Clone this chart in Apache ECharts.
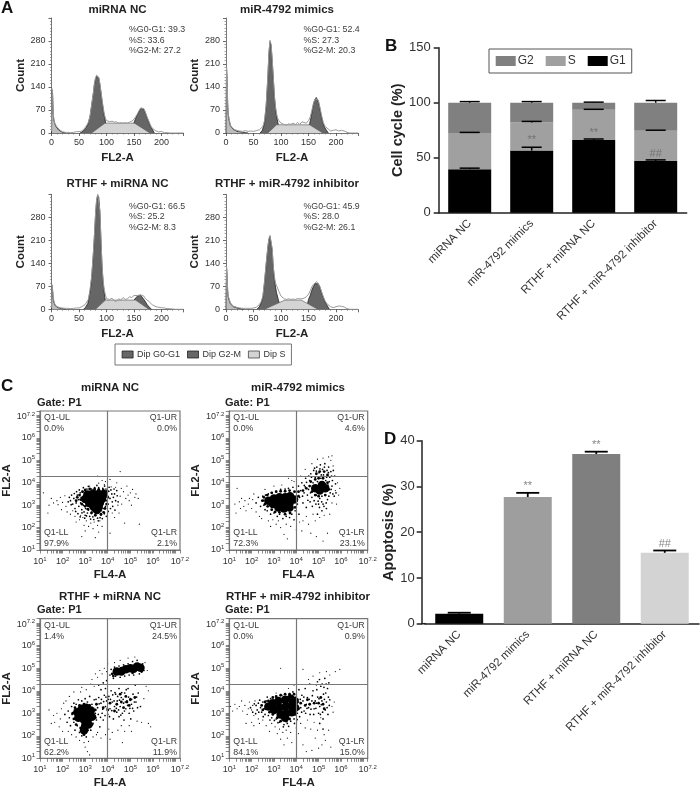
<!DOCTYPE html>
<html><head><meta charset="utf-8">
<style>html,body{margin:0;padding:0;background:#fff}#c{width:700px;height:786px}</style>
<script src="https://cdn.jsdelivr.net/npm/echarts@6/dist/echarts.min.js"></script>
</head><body><div id="c"></div>
<script>
const groups = ['miRNA NC','miR-4792 mimics','RTHF + miRNA NC','RTHF + miR-4792 inhibitor'];
// Panel A
const histX = [0,1,2,3,4,6,8,10,13,16,20,25,30,35,40,45,50,55,58,61,64,67,70,73,76,78,80,82,84,86,88,90,92,94,96,98,100,103,106,110,114,118,122,126,130,134,138,142,146,150,153,156,159,162,165,168,171,174,177,180,183,186,190,195,200,205,210,215,220,225,230,235,240];
const rawA1 = [5,135,120,70,45,30,24,18,12,8,4,2,2,1,2,4,4,6,10,16,22,32,50,85,120,150,168,176,178,170,150,125,100,78,58,45,38,36,34,36,33,34,30,31,30,31,30,33,36,42,50,58,68,76,79,74,62,48,36,24,15,10,6,3,5,1,1,0,0,0,0,0,0];
const rawA2 = [5,200,170,95,60,40,25,18,14,10,8,6,5,7,5,6,5,7,8,10,14,20,38,85,170,245,282,270,225,170,115,80,58,45,38,32,30,28,26,24,28,26,30,26,32,26,34,32,30,38,48,68,90,104,110,100,76,52,32,20,14,12,6,8,10,6,8,6,2,0,0,0,0];
const rawA3 = [5,75,60,40,28,16,10,8,6,5,4,3,3,2,3,4,4,8,10,14,20,30,60,100,170,225,290,335,350,345,300,210,130,85,58,45,32,38,30,34,26,24,32,28,36,30,32,38,36,42,40,42,46,44,42,40,32,30,24,18,14,12,8,6,5,4,2,2,1,0,0,0,0];
const rawA4 = [5,130,110,60,42,30,20,15,10,8,6,4,3,3,3,3,4,6,10,15,24,40,85,140,190,215,225,220,185,130,100,80,72,70,55,50,40,36,32,30,32,30,31,30,33,32,32,34,38,46,56,68,76,80,84,80,68,52,38,26,18,12,8,5,8,10,9,7,2,0,0,0,0];
const debrisA1 = [[0,0],[1,130],[2,115],[3,65],[4,42],[6,28],[8,20],[10,14],[13,9],[16,5],[20,2],[26,0]];
const debrisA2 = [[0,0],[1,195],[2,165],[3,90],[4,56],[6,36],[8,22],[10,16],[13,11],[16,8],[20,5],[30,2],[40,0]];
const debrisA3 = [[0,0],[1,72],[2,56],[3,36],[4,24],[6,13],[8,8],[10,6],[13,4],[18,2],[26,0]];
const debrisA4 = [[0,0],[1,125],[2,105],[3,56],[4,38],[6,26],[8,17],[10,12],[13,8],[16,6],[22,3],[32,0]];
const g1A1 = [[52,0],[58,6],[62,14],[66,26],[70,50],[73,85],[76,120],[78,148],[80,165],[82,173],[84,175],[86,167],[88,148],[90,122],[92,96],[94,72],[96,52],[98,36],[101,0]];
const g1A2 = [[62,0],[66,8],[70,30],[73,80],[76,165],[78,240],[80,278],[82,266],[84,220],[86,165],[88,110],[90,75],[92,50],[95,26],[99,0]];
const g1A3 = [[58,0],[62,6],[66,18],[70,52],[73,95],[76,165],[78,220],[80,285],[82,330],[84,347],[86,340],[88,295],[90,205],[92,125],[94,78],[97,36],[100,0]];
const g1A4 = [[56,0],[60,6],[64,20],[67,36],[70,80],[73,135],[76,186],[78,212],[80,222],[82,216],[84,180],[86,126],[88,92],[90,68],[92,50],[95,30],[100,0]];
const g2A1 = [[144,0],[148,22],[151,36],[154,48],[157,58],[160,68],[163,76],[165,78],[168,72],[171,60],[174,46],[177,33],[180,20],[183,12],[187,0]];
const g2A2 = [[146,0],[149,16],[152,28],[155,50],[158,80],[161,100],[164,108],[167,100],[170,80],[173,54],[176,32],[179,18],[182,10],[186,0]];
const g2A3 = [[140,0],[145,16],[150,28],[153,34],[156,40],[159,44],[162,43],[165,38],[168,30],[171,22],[174,14],[178,6],[182,0]];
const g2A4 = [[146,0],[150,30],[153,42],[156,58],[159,70],[162,78],[165,82],[168,78],[171,66],[174,50],[177,36],[180,24],[183,14],[188,0]];
const sA1 = [[73,0],[97,30],[151,30],[179,0]];
const sA2 = [[76,0],[92,25],[152,25],[176,0]];
const sA3 = [[80,0],[98,28],[153,28],[177,0]];
const sA4 = [[70,0],[107,28],[137,28],[167,0]];
const cycleStats = [['39.3','33.6','27.2'],['52.4','27.3','20.3'],['66.5','25.2','8.3'],['45.9','28.0','26.1']];
// Panel B
const g1Values = [39.5,56.5,66,47];
const sValues = [33,25.5,27.5,27.5];
const g2Values = [27.5,18,6.5,25.5];
const g1Err = [[39.5,40.5],[56.5,59.5],[66,67],[47,48]];
const sErr = [[72.5,73],[82,83],[93.5,94],[74.5,75]];
const g2Err = [[100,101],[100,101],[100,100.5],[100,102]];
const bMarks = [[1,66,'**'],[2,72.7,'**'],[3,53.4,'##']];
// Panel C: exponents of FL4-A, FL2-A
const c1Core = [[3.1,3.48],[3.35,3.52],[3.6,3.5],[3.82,3.5],[3.0,3.28],[3.25,3.3],[3.5,3.3],[3.75,3.28],[3.18,3.1],[3.42,3.1],[3.65,3.1],[3.38,2.92],[3.6,2.92],[3.52,2.78]];
const c1Mid = [[2.75,3.45],[2.8,3.25],[2.85,3.05],[2.88,3.6],[3.0,3.68],[3.2,3.72],[3.42,3.72],[3.6,3.7],[3.8,3.68],[3.98,3.62],[4.0,3.35],[3.95,3.05],[3.88,2.85],[3.82,2.68],[3.7,2.6],[3.45,2.55],[3.28,2.65],[3.12,2.82],[3.0,2.95],[2.65,3.35],[2.6,3.2]];
const c1Halo = [[2.5,3.3],[2.6,3.1],[2.65,3.45],[2.7,3.25],[2.72,2.95],[2.78,3.55],[2.8,3.1],[2.82,3.35],[2.85,2.8],[2.9,3.6],[2.92,3.0],[2.95,2.7],[3.0,2.55],[3.02,2.85],[3.08,3.72],[3.1,2.65],[3.15,2.78],[3.2,2.5],[3.22,2.9],[3.28,3.72],[3.3,2.7],[3.34,2.48],[3.42,3.78],[3.45,2.55],[3.55,2.42],[3.6,3.78],[3.7,2.55],[3.72,2.75],[3.78,3.75],[3.8,2.85],[3.85,2.62],[3.9,2.95],[3.92,3.72],[3.95,3.2],[4.0,3.4],[4.02,3.05],[4.05,3.62],[4.1,3.3],[4.12,2.85],[4.18,3.5],[4.2,3.15],[4.25,3.35],[2.4,3.45],[2.35,3.2],[2.3,3.35],[2.25,3.15],[2.55,2.85],[2.62,3.6],[2.45,3.05],[4.3,3.5],[4.35,3.2],[4.4,3.65],[2.38,3.02],[2.52,3.52],[2.58,2.72],[2.68,2.62],[2.74,3.68],[2.78,2.48],[2.86,2.66],[2.92,3.78],[2.98,2.42],[3.06,2.52],[3.14,3.84],[3.24,2.38],[3.38,2.36],[3.52,3.88],[3.58,2.3],[3.66,2.44],[3.76,2.4],[3.86,3.85],[3.94,2.5],[4.02,2.72],[4.06,3.8],[4.14,3.68],[4.22,2.95],[4.28,3.72],[4.32,2.78],[4.42,3.42],[4.46,3.15]];
const c1Dots = [[1.5,3.3],[1.6,3.1],[1.75,3.2],[1.8,3.02],[1.9,3.35],[1.95,2.8],[2.0,3.12],[2.1,3.42],[2.15,2.95],[1.35,2.65],[1.4,3.0],[1.15,3.55],[2.2,2.7],[2.35,2.6],[2.45,2.75],[2.55,2.5],[2.6,2.25],[2.75,2.35],[2.8,2.55],[2.9,2.45],[2.95,2.1],[3.05,2.3],[3.15,2.05],[3.2,3.85],[3.25,2.2],[3.35,1.95],[3.4,2.25],[3.45,1.55],[3.55,2.1],[3.6,1.8],[3.65,2.3],[3.75,2.05],[3.55,4.3],[3.6,3.98],[3.75,4.1],[3.85,3.92],[3.9,4.05],[4.1,4.15],[4.15,3.82],[4.2,2.65],[4.3,2.45],[4.35,3.8],[4.4,4.0],[4.45,3.0],[4.5,2.65],[4.55,3.4],[4.6,3.75],[4.62,3.05],[4.7,3.6],[4.75,2.2],[4.8,3.3],[4.85,3.85],[4.9,3.45],[4.95,3.2],[5.0,3.55],[5.05,3.0],[5.1,3.7],[5.2,3.35],[5.25,3.5],[5.35,3.3],[5.4,2.15],[4.55,4.5],[3.0,1.85],[2.85,1.6],[4.1,1.75]];
const c2Core = [[2.75,3.2],[2.95,3.05],[3.0,3.3],[3.2,3.1],[3.25,3.35],[3.45,3.05],[3.5,3.35],[3.7,3.1],[3.72,3.4],[3.9,3.25],[3.2,2.9],[3.45,2.85],[3.7,2.9],[4.85,3.75],[5.05,3.65],[5.15,3.9],[5.3,3.75]];
const c2Mid = [[2.5,3.2],[2.55,3.35],[2.6,3.05],[2.7,3.45],[2.72,2.95],[2.9,3.55],[2.9,2.8],[3.1,3.6],[3.05,2.7],[3.3,3.62],[3.25,2.68],[3.5,3.62],[3.5,2.6],[3.7,3.65],[3.72,2.65],[3.92,3.6],[3.95,2.9],[4.1,3.4],[4.1,3.6],[4.3,3.65],[4.45,3.75],[4.6,3.85],[4.7,3.6],[4.65,4.05],[4.85,4.15],[5.0,4.2],[5.2,4.2],[5.4,4.0],[5.45,3.7],[5.3,3.45],[5.0,3.4],[4.85,3.45],[5.05,4.5],[5.25,4.5],[5.4,4.35],[4.9,4.4]];
const c2Halo = [[2.2,3.1],[2.3,3.35],[2.4,2.95],[2.45,3.2],[2.5,3.4],[2.55,3.0],[2.6,2.8],[2.62,3.45],[2.7,2.75],[2.75,3.5],[2.85,2.6],[2.9,3.55],[3.0,2.65],[3.1,3.62],[3.15,2.5],[3.25,2.6],[3.3,3.7],[3.4,2.4],[3.5,3.72],[3.55,2.5],[3.65,3.75],[3.7,2.45],[3.8,2.6],[3.85,3.8],[3.9,2.35],[3.95,2.75],[4.0,3.6],[4.05,3.05],[4.1,3.85],[4.12,2.6],[4.15,3.35],[4.2,3.65],[4.25,4.0],[4.3,3.1],[4.35,3.55],[4.4,3.82],[4.42,4.2],[4.45,2.9],[4.5,3.45],[4.55,3.7],[4.6,4.1],[4.62,3.15],[4.65,4.4],[4.7,3.35],[4.75,4.0],[4.78,4.55],[4.8,3.2],[4.85,4.25],[4.9,3.45],[4.92,4.7],[4.95,4.05],[5.0,3.05],[5.02,4.45],[5.05,3.3],[5.08,4.8],[5.1,4.2],[5.15,3.4],[5.18,4.6],[5.2,3.05],[5.22,4.35],[5.28,4.85],[5.3,3.45],[5.32,4.1],[5.38,4.55],[5.4,3.25],[5.42,3.9],[5.45,4.7],[5.5,4.25],[5.52,3.55],[5.55,4.5],[5.6,3.85],[5.62,4.1],[5.7,3.4],[5.72,4.3],[5.15,2.75],[4.95,2.6],[5.35,2.85],[4.28,3.4],[4.36,3.88],[4.46,4.02],[4.52,3.22],[4.56,4.3],[4.64,3.55],[4.68,4.25],[4.72,2.95],[4.74,3.78],[4.82,4.65],[4.88,3.05],[4.9,4.52],[4.98,3.18],[5.04,2.9],[5.06,4.62],[5.12,4.35],[5.14,3.15],[5.24,2.95],[5.26,4.7],[5.34,3.1],[5.36,4.25],[5.44,4.45],[5.46,3.4],[5.48,4.05],[5.56,3.7],[5.58,4.3],[5.64,3.5],[5.66,4.55],[5.76,3.95],[5.78,3.55]];
const c2Dots = [[1.45,3.15],[1.5,2.85],[1.55,3.3],[1.65,2.95],[1.7,3.2],[1.75,2.75],[1.85,3.05],[1.9,3.3],[2.0,2.85],[2.05,3.25],[2.1,3.5],[1.35,3.75],[1.3,2.65],[1.25,3.05],[2.2,2.7],[2.35,2.5],[2.45,2.4],[2.6,3.7],[2.75,2.3],[2.85,2.05],[2.95,2.35],[3.0,3.85],[3.1,2.15],[3.2,2.3],[3.3,2.0],[3.35,3.9],[3.45,1.7],[3.55,2.15],[3.6,1.5],[3.75,2.05],[3.8,4.1],[3.9,4.05],[3.65,4.2],[4.0,1.9],[4.15,2.25],[4.25,1.85],[4.3,2.3],[4.45,2.5],[4.55,2.15],[4.65,1.75],[4.75,2.6],[4.85,2.3],[4.9,1.6],[5.05,2.45],[5.2,1.4],[5.25,2.55],[5.4,1.75],[5.5,2.6],[5.6,3.1],[5.75,3.65],[5.8,3.05],[5.85,4.0],[5.9,3.45],[5.95,3.75],[5.65,4.75],[5.55,5.0],[5.45,5.15],[5.2,5.1],[4.95,5.05],[5.6,5.2],[4.7,4.85],[4.4,4.6],[4.2,4.3]];
const c3Core = [[2.65,3.05],[2.7,2.8],[2.85,3.2],[2.9,2.95],[2.95,2.7],[3.05,3.25],[3.1,3.0],[3.12,2.75],[3.25,3.12],[3.3,2.85],[3.0,2.45],[3.15,2.5],[2.95,2.25],[4.4,4.85],[4.6,4.85],[4.8,4.95],[5.0,5.0],[5.15,4.98],[5.3,5.08],[5.45,5.02]];
const c3Mid = [[2.45,3.0],[2.5,2.75],[2.55,3.25],[2.6,2.5],[2.75,3.35],[2.8,2.35],[2.95,3.4],[3.1,2.25],[3.2,3.35],[3.3,2.5],[3.45,2.8],[3.45,3.15],[3.5,3.4],[2.95,2.05],[2.9,2.2],[4.2,4.75],[4.3,4.9],[4.25,4.65],[4.4,3.4],[4.6,3.5],[4.7,3.25],[4.85,3.5],[4.95,3.35],[4.8,3.75],[4.55,3.85],[5.0,3.6],[4.3,3.1],[4.1,3.45],[3.8,3.25],[4.0,3.15],[5.2,3.7],[5.35,4.95],[5.55,5.05],[5.5,4.85],[5.1,4.8],[4.9,5.05],[4.6,5.0]];
const c3Halo = [[2.1,2.95],[2.2,2.6],[2.25,3.1],[2.3,2.8],[2.35,2.45],[2.4,3.3],[2.42,2.95],[2.5,2.6],[2.5,3.45],[2.55,2.25],[2.6,3.4],[2.65,2.45],[2.7,3.6],[2.75,2.15],[2.85,3.55],[2.85,2.0],[3.0,3.65],[3.05,1.95],[3.1,3.5],[3.2,3.75],[3.25,2.25],[3.3,3.4],[3.35,2.55],[3.4,3.6],[3.45,3.0],[3.5,2.7],[3.55,3.25],[3.6,3.7],[3.65,2.4],[3.7,3.45],[3.75,3.0],[3.8,2.7],[3.85,3.8],[3.9,3.3],[3.95,3.55],[4.0,2.95],[4.05,3.75],[4.1,3.2],[4.15,4.0],[4.2,3.5],[4.25,2.75],[4.3,3.3],[4.35,3.85],[4.4,3.05],[4.42,3.55],[4.5,2.85],[4.5,4.1],[4.55,3.3],[4.6,3.7],[4.65,3.0],[4.7,3.45],[4.72,2.7],[4.75,3.9],[4.8,3.2],[4.85,3.55],[4.88,3.35],[4.9,4.1],[4.95,3.0],[5.0,3.65],[5.02,2.75],[5.05,3.4],[5.12,3.85],[5.15,3.1],[5.22,4.25],[5.25,3.5],[5.35,3.9],[5.45,3.3],[4.1,4.7],[4.15,4.95],[4.25,4.55],[4.3,5.05],[4.35,4.65],[4.5,5.1],[4.55,4.6],[4.7,5.15],[4.75,4.65],[4.9,5.2],[4.95,4.7],[5.1,5.3],[5.15,4.7],[5.3,5.35],[5.4,4.75],[5.55,5.2],[5.6,4.9],[3.6,4.25],[3.7,4.05],[3.8,4.35],[3.9,4.1],[3.95,4.45],[3.48,3.62],[3.58,2.95],[3.62,3.42],[3.68,2.82],[3.72,3.62],[3.78,3.18],[3.82,3.52],[3.88,2.9],[3.92,3.72],[3.98,3.22],[4.02,3.62],[4.08,2.85],[4.12,3.62],[4.18,3.12],[4.22,3.82],[4.28,3.55],[4.32,3.92],[4.38,3.22],[4.44,3.75],[4.48,3.15],[4.52,3.58],[4.58,2.92],[4.62,3.92],[4.68,3.62],[4.74,3.1],[4.78,3.5],[4.82,4.05],[4.92,3.72],[4.98,3.22],[5.06,3.62],[5.1,3.22],[5.18,3.5],[5.28,3.72],[5.32,3.25]];
const c3Dots = [[1.6,2.9],[1.65,2.6],[1.75,3.0],[1.85,2.4],[1.9,2.75],[1.95,3.2],[2.0,2.2],[1.5,2.55],[1.4,3.15],[2.05,3.45],[2.15,3.55],[2.25,2.2],[2.3,3.75],[2.4,2.05],[2.5,3.95],[2.6,1.95],[2.75,1.8],[2.8,3.95],[2.85,4.15],[2.95,1.7],[3.0,1.5],[3.05,4.05],[3.1,1.3],[3.15,1.75],[3.2,1.15],[3.25,4.3],[3.3,4.5],[3.35,1.95],[3.4,4.2],[3.45,4.75],[3.5,2.05],[3.55,4.6],[3.55,2.15],[3.65,4.9],[3.7,1.9],[3.75,4.75],[3.85,5.0],[3.9,2.05],[3.95,4.85],[4.0,5.2],[4.05,2.3],[4.1,1.85],[4.2,2.15],[4.3,5.25],[4.45,2.25],[4.55,5.35],[4.6,2.45],[4.65,1.7],[4.75,2.2],[4.9,5.45],[4.95,2.45],[5.05,2.2],[5.2,5.5],[5.3,2.65],[5.5,2.6],[5.6,3.65],[5.65,5.25],[5.75,4.9],[5.8,2.55],[5.9,2.4],[5.7,4.2],[5.8,4.0]];
const c4Core = [[2.75,3.3],[2.95,3.45],[3.0,3.15],[3.2,3.55],[3.25,3.25],[3.3,2.95],[3.5,3.6],[3.52,3.3],[3.55,3.0],[3.75,3.65],[3.78,3.35],[3.8,3.05],[3.92,3.55],[3.95,3.25],[3.5,2.8]];
const c4Mid = [[2.45,3.35],[2.5,3.15],[2.6,3.5],[2.62,3.2],[2.75,3.55],[2.8,3.05],[2.95,3.7],[2.95,2.95],[3.1,3.75],[3.15,2.8],[3.3,3.8],[3.3,2.65],[3.5,3.85],[3.55,2.65],[3.7,3.85],[3.7,2.75],[3.9,3.85],[3.95,2.95],[4.05,3.6],[4.1,3.2],[4.2,3.45],[4.4,3.35],[4.6,3.4],[4.8,3.45],[5.0,3.45],[5.2,3.4],[5.25,3.2],[5.1,3.7],[4.5,3.6]];
const c4Halo = [[2.2,3.35],[2.25,3.15],[2.3,3.45],[2.4,3.25],[2.45,3.05],[2.5,3.5],[2.55,3.2],[2.6,2.95],[2.65,3.55],[2.75,2.9],[2.85,3.65],[2.9,2.8],[3.1,3.7],[3.1,2.75],[3.25,2.6],[3.35,3.8],[3.45,2.5],[3.6,2.55],[3.7,3.85],[3.75,2.65],[3.85,3.95],[3.9,2.75],[4.0,3.75],[4.05,3.0],[4.1,3.5],[4.12,4.05],[4.15,2.85],[4.2,3.25],[4.25,3.8],[4.3,3.55],[4.35,3.1],[4.4,4.1],[4.45,3.4],[4.5,3.7],[4.55,3.25],[4.6,4.3],[4.62,2.95],[4.7,3.55],[4.75,4.0],[4.8,3.2],[4.85,3.55],[4.9,3.45],[4.95,4.4],[5.0,3.0],[5.02,3.65],[5.05,3.3],[5.1,4.2],[5.15,3.55],[5.2,2.75],[5.22,3.85],[5.28,4.55],[5.3,3.15],[5.35,3.5],[5.4,4.1],[5.42,2.95],[5.48,3.35],[5.5,3.6],[5.05,2.55],[5.2,2.3],[1.95,3.25],[2.05,3.05],[2.12,3.42],[2.18,2.98],[2.32,3.05],[2.36,3.58],[2.52,2.85],[2.7,3.72],[2.82,2.7],[3.02,2.68],[3.18,2.58],[3.42,2.4],[3.66,2.42],[3.92,2.55],[4.04,2.72],[4.18,3.62],[4.24,3.05],[4.34,3.72],[4.42,3.0],[4.48,3.22],[4.58,3.62],[4.66,3.18],[4.72,3.78],[4.78,2.95],[4.88,3.22],[4.96,3.72],[5.08,2.95],[5.12,3.38],[5.18,3.05],[5.26,3.62],[5.32,3.9],[5.38,3.25],[5.44,3.72],[4.92,4.05],[5.04,4.5],[5.16,4.3],[5.24,4.15],[5.34,4.3],[5.46,4.35]];
const c4Dots = [[1.05,3.3],[1.15,3.1],[1.25,3.4],[1.35,3.2],[1.45,3.3],[1.55,3.55],[1.6,3.1],[1.7,3.35],[1.8,2.95],[1.85,3.2],[1.9,3.5],[2.0,3.15],[2.05,3.35],[2.1,2.9],[2.15,3.55],[2.3,2.75],[2.35,2.55],[2.0,2.6],[2.1,2.45],[1.75,2.55],[2.5,2.7],[2.65,2.45],[2.8,2.2],[2.9,2.55],[3.05,2.4],[3.1,3.9],[3.15,2.1],[3.25,2.3],[3.3,1.85],[3.4,2.15],[3.45,1.6],[3.55,2.25],[3.6,1.9],[3.65,4.1],[3.75,2.15],[3.8,1.7],[3.3,5.0],[3.9,4.25],[4.0,2.35],[4.1,2.1],[4.2,2.55],[4.3,1.6],[4.4,2.35],[4.45,1.3],[4.5,2.7],[4.55,4.5],[4.65,2.3],[4.7,1.35],[4.75,4.65],[4.8,2.6],[4.85,1.9],[4.9,4.25],[4.95,2.25],[5.0,1.45],[5.05,4.8],[5.1,2.8],[5.15,1.6],[5.25,2.05],[5.3,1.8],[5.35,4.85],[5.45,2.25],[5.5,4.7],[5.55,1.5],[5.6,3.3],[5.65,3.05],[5.7,3.5],[5.75,4.85],[5.95,4.95],[4.3,4.95]];
const quadrantPct = [['0.0%','0.0%','97.9%','2.1%'],['0.0%','4.6%','72.3%','23.1%'],['1.4%','24.5%','62.2%','11.9%'],['0.0%','0.9%','84.1%','15.0%']];
const logExpLabels = [1,2,3,4,5,6,7.2];
const gateX = 3.98, gateY = 4.27;
// Panel D
const apoptosis = [2.2,27.7,37.1,15.5];
const apoErr = [[2.2,2.4],[27.7,28.6],[37.1,37.6],[15.5,16]];
const dMarks = [[1,30,'**'],[2,39.1,'**'],[3,17.4,'##']];
const barColors = ['#000','#9e9e9e','#7f7f7f','#d3d3d3'];

const FF = '"Liberation Sans",Arial,sans-serif';
const grid=[], xAxis=[], yAxis=[], series=[], graphic=[];
function txt(x,y,text,font,fill,align,rot){
  graphic.push({type:'text',x,y,rotation:rot||0,silent:true,z:50,style:{text,font:font+' '+FF,fill:fill||'#222',align:align||'left',verticalAlign:'middle'}});
}
const zip=(xs,ys)=>xs.map((x,i)=>[x,ys[i]]);

// A
const aX=[51.5,226], aY=[133,309.3];
const rawSets=[rawA1,rawA2,rawA3,rawA4], debrisSets=[debrisA1,debrisA2,debrisA3,debrisA4];
const g1Sets=[g1A1,g1A2,g1A3,g1A4], g2Sets=[g2A1,g2A2,g2A3,g2A4], sSets=[sA1,sA2,sA3,sA4];
const titleY=[9.5,183.5];
for(let i=0;i<4;i++){
  const x0=aX[i%2], y0=aY[i>>1], g=grid.length;
  grid.push({left:x0,top:y0-115,width:132,height:115,outerBoundsMode:'none'});
  xAxis.push({gridIndex:g,type:'value',min:0,max:240,interval:50,name:'FL2-A',nameLocation:'middle',nameGap:19,
    nameTextStyle:{fontFamily:FF,fontWeight:'bold',fontSize:11.5,color:'#222'},
    axisLine:{lineStyle:{color:'#777',width:1}},axisTick:{length:3,lineStyle:{color:'#444',width:.8}},
    minorTick:{show:true,splitNumber:5,length:1.5,lineStyle:{color:'#666',width:.6}},
    splitLine:{show:false},axisLabel:{customValues:[0,50,100,150,200],margin:5,fontFamily:FF,fontSize:9,color:'#333'}});
  yAxis.push({gridIndex:g,type:'value',min:0,max:350,interval:70,name:'Count',nameLocation:'middle',nameGap:22,
    nameTextStyle:{fontFamily:FF,fontWeight:'bold',fontSize:11.5,color:'#222'},
    axisLine:{lineStyle:{color:'#777',width:1}},axisTick:{length:3,lineStyle:{color:'#444',width:.8}},
    minorTick:{show:true,splitNumber:7,length:1.5,lineStyle:{color:'#666',width:.6}},
    splitLine:{show:false},axisLabel:{customValues:[0,70,140,210,280],margin:6,fontFamily:FF,fontSize:9,color:'#333'}});
  const ax={xAxisIndex:g,yAxisIndex:g,type:'line',showSymbol:false,symbol:'none',silent:true,animation:false};
  series.push({...ax,name:'debris'+i,data:debrisSets[i],z:2,lineStyle:{color:'#222',width:.8},areaStyle:{color:'#bdbdbd',opacity:1}});
  series.push({...ax,name:'Dip G0-G1',data:g1Sets[i],z:3,itemStyle:{color:'#666'},lineStyle:{color:'#222',width:.8},areaStyle:{color:'#666',opacity:1}});
  series.push({...ax,name:'Dip G2-M',data:g2Sets[i],z:3,itemStyle:{color:'#666'},lineStyle:{color:'#222',width:.8},areaStyle:{color:'#666',opacity:1}});
  series.push({...ax,name:'Dip S',data:sSets[i],z:4,itemStyle:{color:'#d4d4d4'},lineStyle:{color:'#555',width:.6},areaStyle:{color:'#d4d4d4',opacity:1}});
  series.push({...ax,name:'raw'+i,data:zip(histX,rawSets[i]),z:5,lineStyle:{color:'#999',width:1}});
  const lx=x0+77.5, ly=y0-103;
  const names=['%G0-G1: ','%S: ','%G2-M: '];
  cycleStats[i].forEach((v,k)=>txt(lx,ly+k*10.2+(i>1?0.5:0),names[k]+v,'8.8px','#3c3c3c'));
  txt(i%2?287:117.5,titleY[i>>1],groups[i],'bold 11.5px','#222','center');
}
// B
{const g=grid.length; grid.push({left:438.7,top:47.7,width:248,height:165,outerBoundsMode:'none'});
 xAxis.push({gridIndex:g,type:'category',data:groups,axisLine:{lineStyle:{color:'#222',width:1.5}},axisTick:{alignWithLabel:true,length:5,lineStyle:{color:'#222',width:1.5}},
   axisLabel:{rotate:45,interval:0,margin:9,fontFamily:FF,fontSize:11.5,color:'#333'}});
 yAxis.push({gridIndex:g,type:'value',min:0,max:150,interval:50,splitLine:{show:false},name:'Cell cycle (%)',nameLocation:'middle',nameGap:30,
   nameTextStyle:{fontFamily:FF,fontWeight:'bold',fontSize:14.5,color:'#222'},
   axisLine:{show:true,lineStyle:{color:'#222',width:1.5}},axisTick:{show:true,length:5,lineStyle:{color:'#222',width:1.5}},
   axisLabel:{margin:8,fontFamily:FF,fontSize:13,color:'#333'}});
 const b={xAxisIndex:g,yAxisIndex:g,type:'bar',stack:'c',barWidth:43,silent:true,animation:false};
 series.push({...b,name:'G1',data:g1Values,itemStyle:{color:'#000'}});
 series.push({...b,name:'S',data:sValues,itemStyle:{color:'#a0a0a0'}});
 series.push({...b,name:'G2',data:g2Values,itemStyle:{color:'#808080'}});
 addErr(g,g1Err,20,1.5); addErr(g,sErr,20,1.5); addErr(g,g2Err,20,1.5);
 addMarks(g,bMarks,'#666',11);
}
// D
{const g=grid.length; grid.push({left:425,top:440.7,width:274,height:183,outerBoundsMode:'none'});
 xAxis.push({gridIndex:g,type:'category',data:groups,axisLine:{lineStyle:{color:'#222',width:1.5}},axisTick:{alignWithLabel:true,length:5,lineStyle:{color:'#222',width:1.5}},
   axisLabel:{rotate:45,interval:0,margin:9,fontFamily:FF,fontSize:11.5,color:'#333'}});
 yAxis.push({gridIndex:g,type:'value',min:0,max:40,interval:10,offset:3.3,splitLine:{show:false},name:'Apoptosis (%)',nameLocation:'middle',nameGap:21,
   nameTextStyle:{fontFamily:FF,fontWeight:'bold',fontSize:14.5,color:'#222'},
   axisLine:{show:true,lineStyle:{color:'#222',width:1.5}},axisTick:{show:true,length:5,lineStyle:{color:'#222',width:1.5}},
   axisLabel:{margin:7,fontFamily:FF,fontSize:13,color:'#333'}});
 series.push({xAxisIndex:g,yAxisIndex:g,type:'bar',barWidth:48,silent:true,animation:false,name:'Apoptosis',
   data:apoptosis.map((v,i)=>({value:v,itemStyle:{color:barColors[i]}}))});
 addErr(g,apoErr,23,1.8);
 addMarks(g,dMarks,'#666',11);
 graphic.push({type:'line',silent:true,shape:{x1:421,y1:623.7,x2:426,y2:623.7},style:{stroke:'#222',lineWidth:1.5}});
}
function addErr(g,rows,cap,lw){
  series.push({xAxisIndex:g,yAxisIndex:g,type:'custom',silent:true,animation:false,z:6,name:'err',
    data:rows.map((r,i)=>[i,r[0],r[1]]),encode:{x:0,y:[1,2]},
    renderItem(p,api){
      const a=api.coord([api.value(0),api.value(1)]), t=api.coord([api.value(0),api.value(2)]);
      const st={stroke:'#000',lineWidth:lw};
      return {type:'group',children:[
        {type:'line',shape:{x1:a[0],y1:a[1],x2:t[0],y2:t[1]},style:st},
        {type:'line',shape:{x1:t[0]-cap/2,y1:t[1],x2:t[0]+cap/2,y2:t[1]},style:st}]};
    }});
}
function addMarks(g,rows,col,fs){
  series.push({xAxisIndex:g,yAxisIndex:g,type:'scatter',silent:true,animation:false,z:7,name:'marks',symbolSize:1,itemStyle:{color:'rgba(0,0,0,0)'},
    data:rows.map(r=>({value:[r[0],r[1]],label:{show:true,position:'inside',formatter:r[2],color:col,fontFamily:FF,fontSize:fs}}))});
}
// C
const cL=[40,229.3], cW=[140,138.4], cT=[411,618.7], cH=[139,139.6];
const coreSets=[c1Core,c2Core,c3Core,c4Core], midSets=[c1Mid,c2Mid,c3Mid,c4Mid], haloSets=[c1Halo,c2Halo,c3Halo,c4Halo], dotSets=[c1Dots,c2Dots,c3Dots,c4Dots];
const logTicks=[]; for(let d=1;d<8;d++)for(let k=1;k<10;k++){const v=d+Math.log10(k); if(v<=7.2)logTicks.push(v);} logTicks.push(7.2);
const expFmt=v=>'{a|10}{b|'+v+'}';
const rich={a:{fontFamily:FF,fontSize:9,color:'#333'},b:{fontFamily:FF,fontSize:6,color:'#333',padding:[0,0,5,0]}};
const titleCY=[388,597], gateCY=[403,610];
const qFont='8.8px';
for(let i=0;i<4;i++){
  const c=i%2,r=i>>1,g=grid.length;
  grid.push({left:cL[c],top:cT[r],width:cW[c],height:cH[r],outerBoundsMode:'none',show:true,borderColor:'#777',borderWidth:1.2,backgroundColor:'transparent'});
  const ticks={show:true,customValues:logTicks,length:3.5,lineStyle:{color:'#555',width:.7}};
  xAxis.push({gridIndex:g,type:'value',min:1,max:7.2,interval:1,name:'FL4-A',nameLocation:'middle',nameGap:19,
    nameTextStyle:{fontFamily:FF,fontWeight:'bold',fontSize:11.5,color:'#222'},
    axisLine:{onZero:false,lineStyle:{color:'#777',width:1.2}},axisTick:ticks,splitLine:{show:false},
    axisLabel:{customValues:logExpLabels,margin:6,formatter:expFmt,rich,showMaxLabel:true}});
  yAxis.push({gridIndex:g,type:'value',min:1,max:7.2,interval:1,name:'FL2-A',nameLocation:'middle',nameGap:20,
    nameTextStyle:{fontFamily:FF,fontWeight:'bold',fontSize:11.5,color:'#222'},
    axisLine:{onZero:false,lineStyle:{color:'#777',width:1.2}},axisTick:ticks,splitLine:{show:false},
    axisLabel:{customValues:logExpLabels,margin:5,formatter:expFmt,rich,showMaxLabel:true,verticalAlignMaxLabel:'top'}});
  const s={xAxisIndex:g,yAxisIndex:g,type:'scatter',silent:true,animation:false,large:false,itemStyle:{color:'#000',opacity:1}};
  series.push({...s,name:'core'+i,data:coreSets[i],symbolSize:8.5,z:3});
  series.push({...s,name:'mid'+i,data:midSets[i],symbolSize:2.8,z:3});
  series.push({...s,name:'halo'+i,data:haloSets[i],symbolSize:1.7,z:3});
  series.push({...s,name:'dots'+i,data:dotSets[i],symbolSize:1.2,z:3,
    markLine:{silent:true,symbol:'none',animation:false,label:{show:false},lineStyle:{color:'#777',width:1.2,type:'solid'},
      data:[{xAxis:gateX},{yAxis:gateY}]}});
  const l=cL[c],t=cT[r],w=cW[c],h=cH[r],q=quadrantPct[i],tc='#3a3a3a';
  txt(l+4,t+7,'Q1-UL',qFont,tc); txt(l+4,t+18,q[0],qFont,tc);
  txt(l+w-3,t+7,'Q1-UR',qFont,tc,'right'); txt(l+w-3,t+18,q[1],qFont,tc,'right');
  txt(l+4,t+h-17,'Q1-LL',qFont,tc); txt(l+4,t+h-6,q[2],qFont,tc);
  txt(l+w-3,t+h-17,'Q1-LR',qFont,tc,'right'); txt(l+w-3,t+h-6,q[3],qFont,tc,'right');
  txt(c?298:110,titleCY[r],groups[i],'bold 11.5px','#222','center');
  txt(c?225:37,gateCY[r],'Gate: P1','bold 11px','#222');
}
// Panel letters
txt(1,8,'A','bold 17px','#111'); txt(385,46,'B','bold 17px','#111'); txt(1,386,'C','bold 17px','#111'); txt(384,439,'D','bold 17px','#111');

const chart=echarts.init(document.getElementById('c'),null,{renderer:'canvas'});
chart.setOption({animation:false,backgroundColor:'#fff',grid,xAxis,yAxis,series,graphic,
  legend:[
    {left:115,top:344,padding:[6,6,6,6.7],itemWidth:11,itemHeight:7,itemGap:7,borderColor:'#777',borderWidth:1,selectedMode:false,
     textStyle:{fontFamily:FF,fontSize:9,color:'#333',padding:[0,0,0,-1]},
     data:[{name:'Dip G0-G1',icon:'rect',itemStyle:{color:'#666',borderColor:'#222',borderWidth:.8}},{name:'Dip G2-M',icon:'rect',itemStyle:{color:'#666',borderColor:'#222',borderWidth:.8}},{name:'Dip S',icon:'rect',itemStyle:{color:'#d4d4d4',borderColor:'#444',borderWidth:.8}}]},
    {left:489,top:49,padding:[6,6,6,6.7],itemWidth:20,itemHeight:10,itemGap:12,borderColor:'#555',borderWidth:1,selectedMode:false,
     textStyle:{fontFamily:FF,fontSize:12,color:'#333',padding:[0,0,0,-3]},
     data:[{name:'G2',icon:'rect'},{name:'S',icon:'rect'},{name:'G1',icon:'rect'}]}
  ]});
</script></body></html>
